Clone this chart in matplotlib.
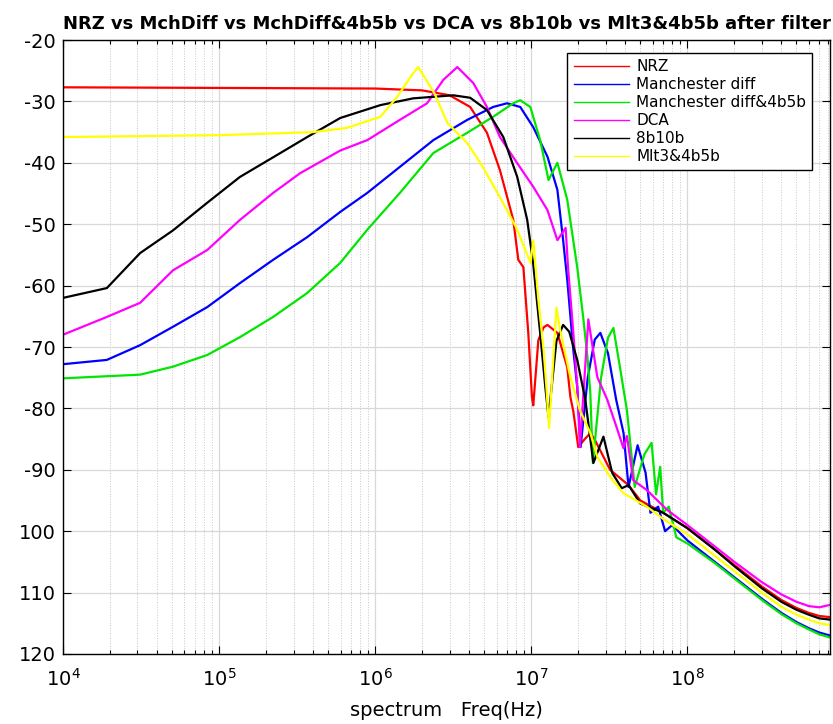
import numpy as np
import matplotlib
matplotlib.use("Agg")
import matplotlib.pyplot as plt
from matplotlib.ticker import LogLocator, NullFormatter, FixedLocator

# Spectra (dB vs Hz)
nrz_f = [1e4, 1e5, 1e6, 2e6, 3e6, 4.06e6, 5.2e6, 6.3e6, 7.67e6, 8.26e6, 8.9e6,
         9.57e6, 1.01e7, 1.03e7, 1.11e7, 1.2e7, 1.27e7, 1.47e7, 1.7e7, 1.78e7,
         1.86e7, 2.0e7, 2.2e7, 2.4e7, 2.6e7, 3.2e7, 4.2e7, 5.0e7, 7e7, 1e8,
         1.5e8, 2e8, 3e8, 4e8, 5e8, 6e8, 7e8, 8.2e8]
nrz_db = [-27.7, -27.8, -27.9, -28.2, -29.0, -30.9, -35.1, -41.2, -49.3, -55.8,
          -57.0, -67.7, -78.1, -79.5, -68.9, -66.8, -66.4, -67.7, -73.3, -78.1,
          -80.5, -86.3, -85.0, -84.0, -85.5, -90.0, -92.5, -95.0, -97.0, -99.5,
          -103.0, -105.5, -109.0, -111.2, -112.5, -113.3, -113.8, -114.0]

mch_f = [1e4, 1.91e4, 3.12e4, 5.07e4, 8.4e4, 1.36e5, 2.22e5, 3.67e5, 5.97e5,
         8.9e5, 2.36e6, 3.89e6, 5.7e6, 7.0e6, 8.5e6, 1.03e7, 1.27e7, 1.47e7,
         1.6e7, 1.7e7, 1.86e7, 1.97e7, 2.07e7, 2.3e7, 2.55e7, 2.77e7, 3.1e7,
         3.5e7, 3.9e7, 4.2e7, 4.8e7, 5.4e7, 5.8e7, 6.5e7, 7.2e7, 8e7, 1e8,
         1.5e8, 2e8, 3e8, 4e8, 5e8, 6e8, 7e8, 8.2e8]
mch_db = [-72.8, -72.1, -69.7, -66.7, -63.5, -59.6, -55.8, -52.1, -48.0,
          -44.9, -36.3, -33.0, -30.9, -30.3, -30.9, -34.2, -39.0, -44.4,
          -52.6, -59.0, -70.5, -76.5, -86.3, -75.0, -68.8, -67.7, -71.0,
          -78.6, -84.0, -92.8, -86.0, -90.5, -97.0, -96.0, -100.0, -99.0, -101.5,
          -105.0, -107.5, -111.0, -113.3, -114.8, -115.8, -116.5, -117.0]

mch45_f = [1e4, 3.12e4, 5.07e4, 8.4e4, 1.36e5, 2.22e5, 3.67e5, 5.97e5, 8.9e5,
           1.44e6, 2.36e6, 3.89e6, 5.7e6, 7.67e6, 8.5e6, 9.86e6, 1.14e7, 1.29e7,
           1.47e7, 1.7e7, 1.97e7, 2.15e7, 2.29e7, 2.39e7, 2.48e7, 2.8e7, 3.1e7,
           3.36e7, 3.7e7, 4.1e7, 4.6e7, 5.3e7, 5.9e7, 6.3e7, 6.7e7, 7.0e7, 7.6e7,
           8.5e7, 1e8, 1.5e8, 2e8, 3e8, 4e8, 5e8, 6e8, 7e8, 8.2e8]
mch45_db = [-75.1, -74.5, -73.2, -71.3, -68.4, -65.1, -61.2, -56.3, -50.9,
            -44.9, -38.4, -35.1, -32.5, -30.3, -29.8, -30.9, -36.3, -42.8,
            -40.0, -46.0, -57.0, -65.1, -71.6, -77.5, -88.9, -75.0, -68.5,
            -66.9, -73.3, -80.3, -92.8, -87.5, -85.6, -94.0, -89.5, -97.0, -96.0,
            -101.0, -102.0, -105.2, -107.7, -111.2, -113.5, -115.0, -116.0, -116.8, -117.3]

dca_f = [1e4, 1.91e4, 3.12e4, 5.07e4, 8.4e4, 1.36e5, 2.22e5, 3.3e5, 5.97e5,
         8.9e5, 1.44e6, 2.15e6, 2.73e6, 3.36e6, 4.25e6, 5.2e6, 6.3e6, 8.1e6,
         1.03e7, 1.27e7, 1.47e7, 1.66e7, 1.72e7, 1.86e7, 1.97e7, 2.05e7, 2.32e7,
         2.65e7, 3.07e7, 3.45e7, 3.9e7, 4.1e7, 4.5e7, 5.5e7, 7.4e7, 1e8, 1.5e8,
         2e8, 3e8, 4e8, 5e8, 6e8, 7e8, 8.2e8]
dca_db = [-68.0, -65.1, -62.8, -57.5, -54.2, -49.3, -44.9, -41.7, -38.0,
          -36.3, -33.0, -30.3, -26.5, -24.4, -27.0, -30.9, -35.8, -40.0,
          -43.9, -47.7, -52.6, -50.6, -57.0, -67.7, -76.5, -86.3, -65.5,
          -74.9, -78.6, -82.4, -86.5, -84.5, -91.7, -93.3, -96.5, -99.0, -102.5,
          -105.0, -108.3, -110.3, -111.5, -112.2, -112.4, -112.0]

b8_f = [1e4, 1.91e4, 3.12e4, 5.07e4, 8.4e4, 1.36e5, 2.22e5, 3.67e5, 5.97e5,
        1.08e6, 1.75e6, 3.16e6, 4.06e6, 5.2e6, 6.62e6, 8.13e6, 9.42e6, 1.03e7,
        1.14e7, 1.23e7, 1.29e7, 1.45e7, 1.6e7, 1.75e7, 1.97e7, 2.22e7, 2.5e7,
        2.9e7, 3.3e7, 3.8e7, 4.2e7, 5e7, 7e7, 1e8, 1.5e8, 2e8, 3e8, 4e8, 5e8,
        6e8, 7e8, 8.2e8]
b8_db = [-62.0, -60.4, -54.7, -51.0, -46.5, -42.3, -39.1, -35.8, -32.7,
         -30.6, -29.5, -29.0, -29.4, -31.4, -35.8, -42.3, -49.3, -56.5,
         -67.7, -76.5, -81.4, -69.0, -66.4, -67.5, -72.1, -78.6, -88.9,
         -84.6, -90.5, -93.0, -92.5, -95.5, -97.0, -99.5, -103.0, -105.7, -109.3,
         -111.5, -112.8, -113.6, -114.2, -114.4]

mlt_f = [1e4, 1e5, 4e5, 6.6e5, 1.08e6, 1.38e6, 1.75e6, 1.89e6, 2.4e6, 2.9e6,
         3.9e6, 4.9e6, 6.3e6, 8.0e6, 9.9e6, 1.03e7, 1.11e7, 1.2e7, 1.25e7, 1.3e7,
         1.45e7, 1.53e7, 1.78e7, 2.05e7, 2.39e7, 2.65e7, 3.21e7, 3.89e7, 5.5e7,
         7e7, 1e8, 1.5e8, 2e8, 3e8, 4e8, 5e8, 6e8, 7e8, 8.2e8]
mlt_db = [-35.8, -35.5, -35.0, -34.3, -32.5, -29.3, -25.4, -24.4, -28.7, -33.5,
          -36.8, -40.7, -45.6, -50.5, -56.3, -52.6, -62.3, -70.5, -76.5, -83.2,
          -63.6, -67.2, -74.9, -80.3, -84.0, -87.9, -91.2, -93.8, -96.0,
          -98.0, -100.5, -104.0, -106.5, -110.0, -112.3, -113.6, -114.4, -115.0, -115.3]

series = [
    ("NRZ", nrz_f, nrz_db, "#ff0000"),
    ("Manchester diff", mch_f, mch_db, "#0000ff"),
    ("Manchester diff&4b5b", mch45_f, mch45_db, "#00e600"),
    ("DCA", dca_f, dca_db, "#ff00ff"),
    ("8b10b", b8_f, b8_db, "#000000"),
    ("Mlt3&4b5b", mlt_f, mlt_db, "#ffff00"),
]

y_ticks = [-20, -30, -40, -50, -60, -70, -80, -90, -100, -110, -120]
y_labels = ["-20", "-30", "-40", "-50", "-60", "-70", "-80", "-90",
            "100", "110", "120"]

fig = plt.figure(figsize=(8.33, 7.24), dpi=100)
ax = fig.add_axes([0.0756, 0.0967, 0.9208, 0.848])

for name, f, db, color in series:
    ax.plot(f, db, "-", color=color, lw=1.6, label=name)

ax.set_xscale("log")
ax.set_xlim(1e4, 8.2e8)
ax.set_ylim(-120, -20)
ax.yaxis.set_major_locator(FixedLocator(y_ticks))
ax.set_yticklabels(y_labels)
ax.xaxis.set_major_locator(LogLocator(base=10, numticks=12))
ax.xaxis.set_minor_locator(LogLocator(base=10, subs=np.arange(2, 10), numticks=12))
ax.xaxis.set_minor_formatter(NullFormatter())

ax.grid(True, which="major", color="#d8d8d8", lw=0.9, ls="-")
ax.grid(True, which="minor", axis="x", color="#c8c8c8", lw=0.7, ls=":")
ax.set_axisbelow(True)

ax.tick_params(which="both", direction="in", top=True, right=True,
               labelsize=14, width=0.8)
ax.tick_params(which="major", length=6)
ax.tick_params(which="minor", length=3)
ax.tick_params(axis="x", which="major", pad=10)
ax.tick_params(axis="y", which="major", pad=5)
for sp in ax.spines.values():
    sp.set_linewidth(1.0)

ax.set_title("NRZ vs MchDiff vs MchDiff&4b5b vs DCA vs 8b10b vs Mlt3&4b5b after filter",
             fontsize=13, fontweight="bold", pad=8)
ax.set_xlabel("spectrum   Freq(Hz)", fontsize=14, labelpad=8)

leg = ax.legend(loc="upper right", bbox_to_anchor=(0.977, 0.979), fontsize=11,
                frameon=True, fancybox=False, framealpha=1, edgecolor="black",
                handlelength=3.6, labelspacing=0.2, borderpad=0.4,
                handletextpad=0.5, borderaxespad=0)
leg.get_frame().set_linewidth(1.0)
for h in leg.get_lines():
    h.set_linewidth(1.0)

fig.savefig("out.png", dpi=100)
